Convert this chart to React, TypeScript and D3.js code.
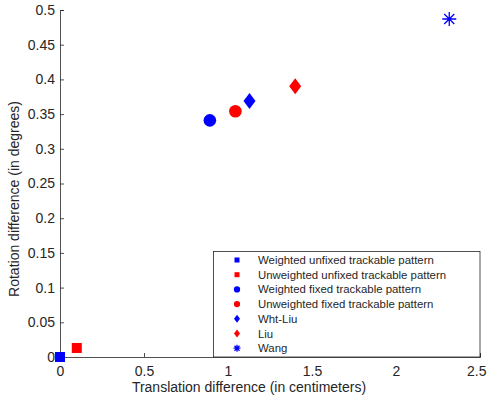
import { useEffect, useRef } from 'react'
import * as d3 from 'd3'

const names = [
  'Weighted unfixed trackable pattern',
  'Unweighted unfixed trackable pattern',
  'Weighted fixed trackable pattern',
  'Unweighted fixed trackable pattern',
  'Wht-Liu',
  'Liu',
  'Wang',
]
const xVals = [0, 0.1, 0.892, 1.044, 1.128, 1.4, 2.317]
const yVals = [0, 0.013, 0.341, 0.354, 0.369, 0.39, 0.487]
const colors = ['#0000ff', '#ff0000', '#0000ff', '#ff0000', '#0000ff', '#ff0000', '#0000ff']
const shapes = ['square', 'square', 'circle', 'circle', 'diamond', 'diamond', 'star']

const xTicks = [0, 0.5, 1, 1.5, 2, 2.5]
const yTicks = [0, 0.05, 0.1, 0.15, 0.2, 0.25, 0.3, 0.35, 0.4, 0.45, 0.5]

const W = 487
const H = 400
const FONT = '"Liberation Sans", Arial, sans-serif'
const TXT = '#262626'

// draws one marker at (cx, cy); s = scale factor
function marker(g: any, shape: string, cx: number, cy: number, color: string, s: number) {
  if (shape === 'square') {
    g.append('rect').attr('x', cx - 5 * s).attr('y', cy - 5 * s)
      .attr('width', 10 * s).attr('height', 10 * s).attr('fill', color)
  } else if (shape === 'circle') {
    g.append('circle').attr('cx', cx).attr('cy', cy).attr('r', 6.3 * s).attr('fill', color)
  } else if (shape === 'diamond') {
    const w = 6 * s, h = 8 * s
    g.append('path')
      .attr('d', `M${cx},${cy - h}L${cx + w},${cy}L${cx},${cy + h}L${cx - w},${cy}Z`)
      .attr('fill', color)
  } else {
    const r = 7 * s, d = r * 0.72
    g.append('path')
      .attr('d', `M${cx - r},${cy}H${cx + r}M${cx},${cy - r}V${cy + r}M${cx - d},${cy - d}L${cx + d},${cy + d}M${cx - d},${cy + d}L${cx + d},${cy - d}`)
      .attr('stroke', color).attr('stroke-width', 1.3).attr('fill', 'none')
  }
}

export default function App() {
  const svgRef = useRef<SVGSVGElement>(null)

  useEffect(() => {
    const el = svgRef.current
    if (!el) return
    const svg = d3.select(el)
    svg.selectAll('*').remove()

    const pad = { l: 60, r: 7, t: 10, b: 43 }
    const x = d3.scaleLinear().domain([0, 2.5]).range([pad.l, W - pad.r])
    const y = d3.scaleLinear().domain([0, 0.5]).range([H - pad.b, pad.t])

    // axes (ticks pointing inward, MATLAB style)
    const xAxis = svg.append('g').attr('transform', `translate(0,${y(0)})`)
      .call(d3.axisBottom(x).tickValues(xTicks).tickSize(-4).tickPadding(9).tickFormat(d => String(d)))
    const yAxis = svg.append('g').attr('transform', `translate(${x(0)},0)`)
      .call(d3.axisLeft(y).tickValues(yTicks).tickSize(-4).tickPadding(5).tickFormat(d => String(d)))
    for (const a of [xAxis, yAxis]) {
      a.select('.domain').attr('stroke', TXT).attr('stroke-width', 0.8)
      a.selectAll('.tick line').attr('stroke', TXT).attr('stroke-width', 0.8)
      a.selectAll('.tick text').attr('fill', TXT).attr('font-size', 14).attr('font-family', FONT)
    }
    // keep the last x tick label inside the window
    xAxis.selectAll('.tick text').filter((d: any) => d === 2.5)
      .attr('text-anchor', 'end').attr('x', W - 1 - x(2.5))

    svg.append('text').attr('x', 249).attr('y', 392)
      .attr('text-anchor', 'middle').attr('font-size', 14).attr('font-family', FONT).attr('fill', TXT)
      .text('Translation difference (in centimeters)')
    svg.append('text').attr('transform', `translate(18.5,199) rotate(-90)`)
      .attr('text-anchor', 'middle').attr('font-size', 14).attr('font-family', FONT).attr('fill', TXT)
      .text('Rotation difference (in degrees)')

    // legend
    const lg = svg.append('g')
    lg.append('rect').attr('x', 213.5).attr('y', 251.5).attr('width', 266.5).attr('height', 105.5)
      .attr('fill', '#fff').attr('stroke', TXT).attr('stroke-width', 0.8)
    names.forEach((n, i) => {
      const cy = 260 + i * 14.7
      marker(lg, shapes[i], 237, cy, colors[i], 0.5)
      lg.append('text').attr('x', 258).attr('y', cy + 4).attr('font-size', 11.4)
        .attr('font-family', FONT).attr('fill', TXT).text(n)
    })

    // points
    const pts = svg.append('g')
    names.forEach((_, i) => {
      marker(pts, shapes[i], x(xVals[i]), y(yVals[i]), colors[i], 1)
    })
  }, [])

  return (
    <svg ref={svgRef} width={W} height={H}
      style={{ position: 'absolute', left: 0, top: 0, overflow: 'visible', display: 'block' }} />
  )
}
